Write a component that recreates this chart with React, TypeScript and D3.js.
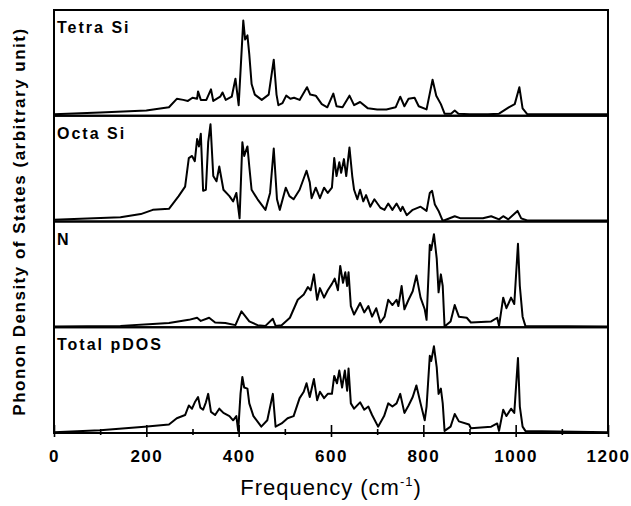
import React, { useRef, useEffect } from 'react';
import * as d3 from 'd3';

// panel labels, top to bottom
const panelNames = ['Tetra Si', 'Octa Si', 'N', 'Total pDOS'];

// [frequency (cm-1), pDOS (arbitrary, 0-100 of panel height)]
const tetraSi: [number, number][] = [
  [0, 1.5], [100, 3], [200, 5], [249, 8], [266, 16], [280, 15], [290, 14], [300, 17], [310, 16],
  [312, 23], [318, 15], [330, 15], [340, 25], [345, 14], [360, 18], [365, 22], [372, 15], [385, 18],
  [393, 35], [400, 10], [405, 50], [410, 90], [414, 72], [419, 76], [423, 58], [428, 30], [435, 20],
  [450, 15], [465, 20], [476, 53], [482, 20], [486, 10], [495, 12], [503, 19], [512, 16], [520, 17],
  [532, 15], [548, 27], [555, 20], [567, 19], [580, 11], [592, 8], [605, 21], [612, 9], [625, 8],
  [640, 19], [650, 10], [663, 13], [680, 7], [700, 6], [720, 6], [740, 8], [750, 18], [759, 9],
  [768, 16], [781, 17], [790, 9], [807, 6], [820, 34], [828, 19], [838, 11], [846, 2], [860, 2],
  [868, 5], [876, 2], [900, 1.5], [940, 1.5], [964, 2], [985, 8], [998, 11], [1008, 27], [1015, 7],
  [1025, 1.5], [1200, 1.5],
];

const octaSi: [number, number][] = [
  [0, 1.6], [144, 4], [188, 7], [214, 11], [249, 12], [270, 24], [284, 33], [292, 60], [299, 62],
  [305, 57], [310, 78], [314, 71], [318, 83], [323, 29], [329, 30], [334, 75], [339, 92], [345, 43],
  [352, 38], [358, 52], [367, 30], [380, 24], [388, 19], [395, 27], [402, 3], [408, 75], [412, 62],
  [419, 71], [423, 52], [428, 30], [441, 21], [458, 11], [468, 27], [476, 69], [483, 21], [489, 11],
  [502, 32], [510, 24], [519, 21], [532, 30], [547, 48], [554, 37], [558, 22], [567, 32], [576, 22],
  [585, 32], [593, 27], [602, 32], [607, 60], [612, 43], [618, 56], [622, 46], [628, 59], [633, 43],
  [640, 70], [646, 43], [650, 30], [657, 21], [663, 30], [670, 19], [676, 25], [685, 14], [694, 21],
  [707, 13], [716, 11], [724, 17], [733, 11], [742, 17], [751, 10], [755, 14], [764, 6], [777, 11],
  [794, 14], [807, 10], [814, 27], [819, 29], [825, 16], [833, 10], [842, 0.5], [868, 5], [881, 3],
  [929, 3], [947, 5], [964, 2], [973, 5], [984, 2], [1004, 10], [1012, 3], [1025, 1], [1200, 1],
];

const nitrogen: [number, number][] = [
  [0, 0.6], [144, 1.3], [214, 3], [249, 4], [292, 7], [310, 9], [318, 6], [336, 9], [349, 4.5],
  [371, 4], [393, 2], [406, 15], [415, 10], [423, 5.5], [441, 2], [458, 1.3], [474, 8], [480, 1.3],
  [493, 2], [511, 9], [528, 26], [541, 31], [550, 38], [556, 35], [563, 50], [570, 26], [576, 37],
  [585, 28], [593, 35], [602, 41], [608, 46], [615, 35], [620, 58], [626, 42], [631, 52], [635, 39],
  [638, 52], [643, 20], [650, 12], [663, 23], [672, 14], [681, 20], [689, 10], [698, 18], [707, 4.5],
  [716, 10], [724, 26], [733, 21], [742, 26], [746, 20], [753, 39], [759, 17], [768, 26], [777, 34],
  [785, 49], [794, 28], [803, 17], [807, 7], [814, 78], [817, 73], [823, 88], [829, 65], [833, 33],
  [838, 50], [842, 39], [846, 0.6], [859, 5.5], [868, 21], [877, 10], [894, 9], [903, 4.5], [947, 5.5],
  [960, 9], [964, 1.3], [973, 28], [980, 18], [990, 28], [997, 22], [1005, 79], [1009, 39], [1015, 10],
  [1021, 1.3], [1200, 0.6],
];

const totalDos: [number, number][] = [
  [0, 0.6], [100, 2.5], [196, 6], [249, 8], [266, 14], [284, 17], [292, 26], [299, 23], [305, 29],
  [312, 34], [317, 24], [323, 22], [329, 29], [334, 37], [340, 20], [349, 17], [358, 23], [367, 19],
  [380, 16], [388, 12], [395, 16], [399, 2], [404, 37], [408, 53], [412, 43], [419, 42], [423, 28],
  [432, 16], [449, 6], [462, 12], [474, 37], [480, 6], [493, 9], [506, 14], [519, 16], [532, 33],
  [541, 39], [547, 47], [554, 34], [563, 51], [570, 31], [576, 39], [585, 33], [593, 37], [602, 37],
  [607, 54], [613, 47], [618, 59], [624, 43], [630, 59], [635, 40], [638, 61], [643, 28], [650, 23],
  [663, 29], [672, 22], [681, 25], [689, 17], [702, 6], [715, 16], [724, 28], [733, 25], [742, 28],
  [750, 37], [759, 19], [768, 26], [777, 34], [785, 45], [794, 28], [803, 12], [807, 25], [814, 73],
  [817, 68], [823, 82], [829, 62], [833, 37], [838, 42], [842, 28], [846, 2], [859, 6], [868, 18],
  [877, 11], [899, 8], [903, 4.5], [947, 6], [960, 9], [964, 2], [973, 22], [980, 16], [990, 23],
  [997, 19], [1005, 71], [1009, 25], [1015, 6], [1021, 2], [1200, 0.6],
];

const series = [tetraSi, octaSi, nitrogen, totalDos];

const majorTicks = [0, 200, 400, 600, 800, 1000, 1200];
const minorTicks = [100, 300, 500, 700, 900, 1100];

const FONT = "'Liberation Sans', Arial, Helvetica, sans-serif";

export default function App() {
  const svgRef = useRef<SVGSVGElement>(null);

  useEffect(() => {
    const svg = d3.select(svgRef.current);
    svg.selectAll('*').remove();

    const width = 631;
    const height = 506;
    const margin = { top: 10, right: 23, bottom: 73, left: 54 };
    const plotBottom = height - margin.bottom;
    const panelH = (plotBottom - margin.top) / series.length;

    const x = d3.scaleLinear().domain([0, 1200]).range([margin.left, width - margin.right]);

    series.forEach((data, i) => {
      const top = margin.top + i * panelH;
      const y = d3.scaleLinear().domain([0, 100]).range([top + panelH, top]);

      const line = d3.line<[number, number]>()
        .x(d => x(d[0]))
        .y(d => y(d[1]));

      svg.append('path')
        .datum(data)
        .attr('d', line)
        .attr('fill', 'none')
        .attr('stroke', '#000')
        .attr('stroke-width', 2)
        .attr('stroke-linejoin', 'round');

      svg.append('rect')
        .attr('x', margin.left)
        .attr('y', top)
        .attr('width', width - margin.left - margin.right)
        .attr('height', panelH)
        .attr('fill', 'none')
        .attr('stroke', '#000')
        .attr('stroke-width', 2);

      svg.append('text')
        .attr('x', margin.left + 3)
        .attr('y', top + 23)
        .attr('font-family', FONT)
        .attr('font-size', 16)
        .attr('font-weight', 'bold')
        .attr('letter-spacing', 2)
        .text(panelNames[i]);
    });

    // bottom axis: ticks cross the frame line
    const styleTicks = (g: d3.Selection<SVGGElement, unknown, null, undefined>) => {
      g.select('.domain').remove();
      g.selectAll('line').attr('stroke', '#000').attr('stroke-width', 1.6);
    };

    svg.append('g')
      .attr('transform', `translate(0,${plotBottom})`)
      .call(d3.axisBottom(x).tickValues(majorTicks).tickSize(-8).tickFormat(() => ''))
      .call(styleTicks);

    svg.append('g')
      .attr('transform', `translate(0,${plotBottom})`)
      .call(d3.axisBottom(x).tickValues(minorTicks).tickSize(-4).tickFormat(() => ''))
      .call(styleTicks);

    svg.append('g')
      .attr('transform', `translate(0,${plotBottom})`)
      .call(d3.axisBottom(x).tickValues(minorTicks).tickSize(2).tickFormat(() => ''))
      .call(styleTicks);

    const labels = svg.append('g')
      .attr('transform', `translate(0,${plotBottom})`)
      .call(d3.axisBottom(x).tickValues(majorTicks).tickSize(4).tickPadding(13).tickFormat(d3.format('d')))
      .call(styleTicks);
    labels.selectAll('text')
      .attr('fill', '#000')
      .attr('font-family', FONT)
      .attr('font-size', 17)
      .attr('font-weight', 'bold')
      .attr('letter-spacing', 1.5);

    // axis titles
    const xTitle = svg.append('text')
      .attr('x', (margin.left + width - margin.right) / 2)
      .attr('y', 495)
      .attr('text-anchor', 'middle')
      .attr('font-family', FONT)
      .attr('font-size', 22)
      .attr('letter-spacing', 1);
    xTitle.append('tspan').text('Frequency (cm');
    xTitle.append('tspan').attr('font-size', 13).attr('dy', -9).text('-1');
    xTitle.append('tspan').attr('dy', 9).text(')');

    svg.append('text')
      .attr('transform', `translate(25,${(margin.top + plotBottom) / 2}) rotate(-90)`)
      .attr('text-anchor', 'middle')
      .attr('font-family', FONT)
      .attr('font-size', 17)
      .attr('font-weight', 'bold')
      .attr('letter-spacing', 1.5)
      .text('Phonon Density of States (arbitrary unit)');
  }, []);

  return (
    <svg
      ref={svgRef}
      width={631}
      height={506}
      style={{ position: 'absolute', left: 0, top: 0, background: '#fff' }}
    />
  );
}
